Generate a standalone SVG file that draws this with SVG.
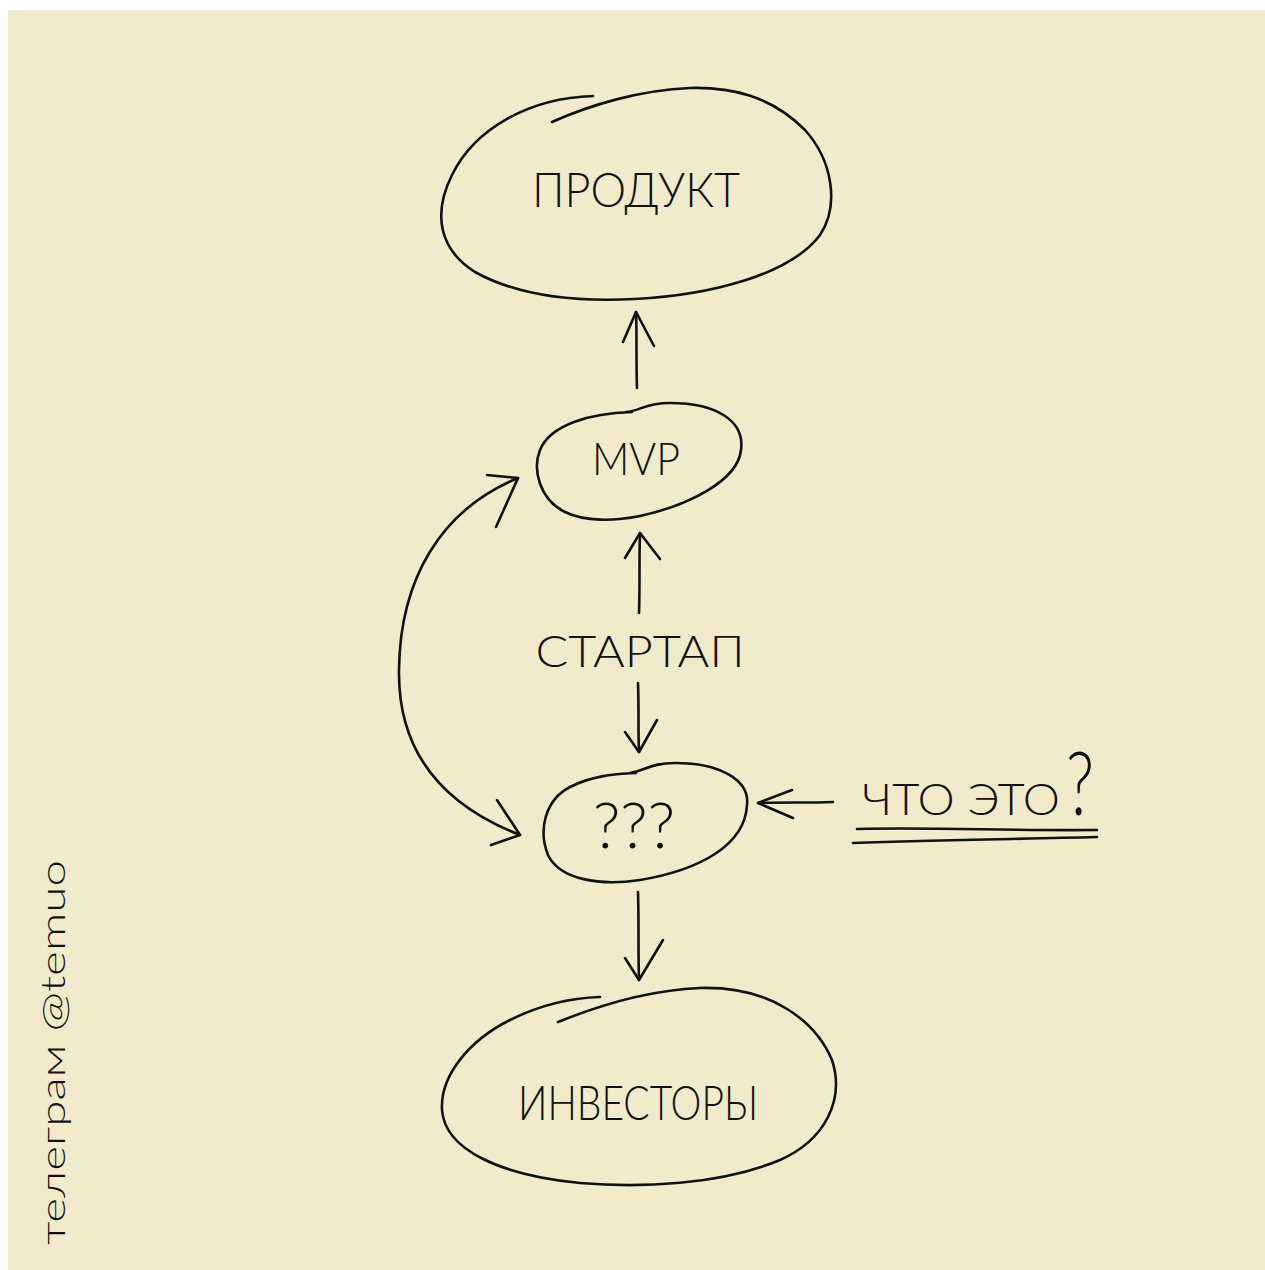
<svg xmlns="http://www.w3.org/2000/svg" width="1265" height="1270" viewBox="0 0 1265 1270">
  <style>
    .ink { fill: none; stroke: #111; stroke-width: 2.6; stroke-linecap: round; stroke-linejoin: round; }
    .lbl { font-family: "Lato", "Liberation Sans", sans-serif; font-weight: 300; fill: #111; text-anchor: middle; }
    .note { font-family: "Lato", "Liberation Sans", sans-serif; font-weight: 300; fill: #111; }
  </style>
  <rect x="0" y="0" width="1265" height="1270" fill="#ffffff"/>
  <rect x="8" y="10" width="1257" height="1260" fill="#f1ebcb"/>

  <!-- nodes -->
  <g id="node-product">
    <path class="ink" d="M 593 96 C 530 98, 475 128, 452 175 C 432 215, 440 250, 475 272 C 520 297, 580 302, 635 299 C 710 295, 790 275, 820 235 C 840 205, 832 160, 805 130 C 770 95, 730 87, 690 88 C 640 90, 590 105, 552 122"/>
    <text class="lbl" x="636" y="207" font-size="48" textLength="208" lengthAdjust="spacingAndGlyphs">ПРОДУКТ</text>
  </g>

  <g id="node-mvp">
    <path class="ink" d="M 626 412 C 640 411, 645 403, 670 403 C 715 403, 745 420, 741 450 C 738 480, 690 505, 640 516 C 615 521, 585 522, 565 512 C 540 500, 532 470, 540 450 C 550 425, 590 413, 632 412"/>
    <text class="lbl" x="636" y="475" font-size="46" textLength="88" lengthAdjust="spacingAndGlyphs">MVP</text>
  </g>

  <g id="node-startup">
    <text class="lbl" x="640" y="667" font-size="44" textLength="209" lengthAdjust="spacingAndGlyphs">СТАРТАП</text>
  </g>

  <g id="node-unknown">
    <path class="ink" d="M 630 773 C 645 771, 650 763, 675 763 C 720 763, 750 780, 747 805 C 745 845, 700 870, 640 880 C 600 886, 560 880, 548 855 C 538 830, 545 800, 570 787 C 590 777, 610 774, 636 773"/>
    <text class="lbl" x="634" y="848" font-size="64" textLength="82" lengthAdjust="spacingAndGlyphs">???</text>
  </g>

  <g id="node-investors">
    <path class="ink" d="M 558 1022 C 600 1005, 650 990, 700 988 C 770 986, 815 1020, 832 1060 C 845 1100, 825 1140, 780 1160 C 720 1185, 640 1188, 580 1183 C 500 1175, 445 1150, 442 1110 C 440 1075, 470 1040, 510 1020 C 540 1005, 570 998, 600 997"/>
    <text class="lbl" x="638" y="1120" font-size="48" textLength="240" lengthAdjust="spacingAndGlyphs">ИНВЕСТОРЫ</text>
  </g>

  <g id="node-question">
    <text class="note" x="862" y="815" font-size="44" textLength="198" lengthAdjust="spacingAndGlyphs">ЧТО ЭТО</text>
    <text class="note" x="1066" y="815" font-size="88" textLength="28" lengthAdjust="spacingAndGlyphs">?</text>
    <path class="ink" d="M 857 829 C 930 827, 1010 831, 1097 830"/>
    <path class="ink" d="M 853 843 C 940 840, 1020 839, 1097 837"/>
  </g>

  <!-- connectors -->
  <g id="connectors">
    <!-- MVP to product -->
    <path class="ink" d="M 637 388 C 636 360, 637 335, 636 312"/>
    <path class="ink" d="M 623 342 L 636 312 L 654 346"/>
    <!-- startup to MVP -->
    <path class="ink" d="M 639 613 C 640 585, 639 560, 640 533"/>
    <path class="ink" d="M 625 558 L 640 533 L 660 559"/>
    <!-- startup to ??? -->
    <path class="ink" d="M 638 683 C 639 710, 638 730, 639 752"/>
    <path class="ink" d="M 625 732 L 639 752 L 657 720"/>
    <!-- ??? to investors -->
    <path class="ink" d="M 638 892 C 639 925, 638 950, 639 980"/>
    <path class="ink" d="M 625 958 L 639 980 L 663 940"/>
    <!-- question note to ??? -->
    <path class="ink" d="M 833 802 C 805 803, 785 802, 758 803"/>
    <path class="ink" d="M 792 790 L 758 803 L 793 818"/>
    <!-- loop between MVP and ??? -->
    <path class="ink" d="M 518 478 C 440 510, 400 580, 399 670 C 398 740, 430 800, 520 835"/>
    <path class="ink" d="M 487 475 L 518 478 L 496 527"/>
    <path class="ink" d="M 497 800 L 520 835 L 491 845"/>
  </g>

  <text class="note" transform="translate(65,1245) rotate(-90)" x="0" y="0" font-size="34" textLength="385" lengthAdjust="spacingAndGlyphs">телеграм @temuo</text>
</svg>
